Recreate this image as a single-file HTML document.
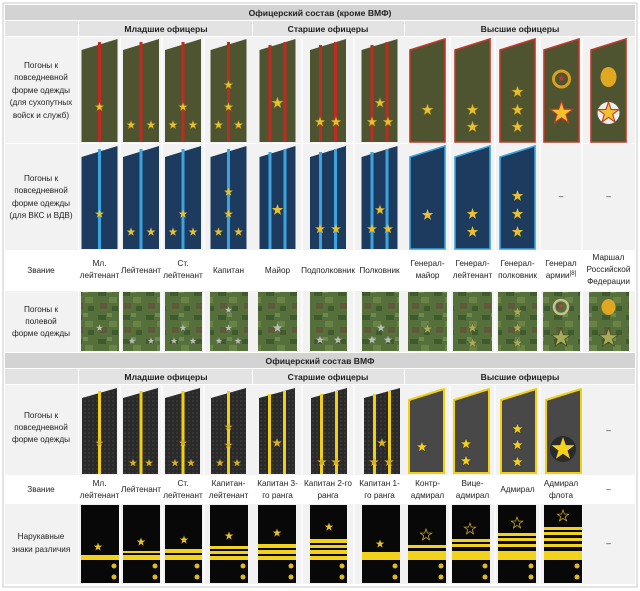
<!DOCTYPE html>
<html><head><meta charset="utf-8"><style>
html,body{margin:0;padding:0;background:#fff;}
svg{display:block}
text{font-family:"Liberation Sans",sans-serif;font-size:8.2px;fill:#222}
.h{font-weight:bold;font-size:8.6px}
.l{fill:#0645ad}
.lb{fill:#444}
</style></head><body>
<svg width="640" height="591" viewBox="0 0 640 591" xmlns="http://www.w3.org/2000/svg">
<defs>
<polygon id="st" points="0,-1 0.235,-0.324 0.951,-0.309 0.38,0.124 0.588,0.809 0,0.4 -0.588,0.809 -0.38,0.124 -0.951,-0.309 -0.235,-0.324"/>
<pattern id="camo" width="24" height="24" patternUnits="userSpaceOnUse">
<rect width="24" height="24" fill="#55703a"/>
<rect x="2" y="3" width="8" height="5" fill="#3f5a2c"/>
<rect x="13" y="9" width="8" height="6" fill="#6a8448"/>
<rect x="4" y="15" width="7" height="6" fill="#5e5a3a"/>
<rect x="16" y="18" width="6" height="5" fill="#3f5a2c"/>
<rect x="11" y="1" width="5" height="4" fill="#6e8a50"/>
</pattern>
<pattern id="nv" width="4" height="4" patternUnits="userSpaceOnUse">
<rect width="4" height="4" fill="#2a2a2a"/><rect width="2" height="2" fill="#363636"/>
</pattern>
</defs>
<rect x="3" y="3" width="634" height="584" fill="#fff" stroke="#c8c8c8"/>
<rect x="5" y="5" width="630" height="15" fill="#d3d3d3"/>
<text class="h" x="320" y="16" text-anchor="middle">Офицерский состав (кроме ВМФ)</text>
<rect x="5" y="21" width="73" height="15" fill="#e3e3e3"/>
<rect x="79" y="21" width="173" height="15" fill="#e3e3e3"/>
<rect x="253" y="21" width="151" height="15" fill="#e3e3e3"/>
<rect x="405" y="21" width="230" height="15" fill="#e3e3e3"/>
<text class="h" x="166" y="32" text-anchor="middle">Младшие офицеры</text>
<text class="h" x="328" y="32" text-anchor="middle">Старшие офицеры</text>
<text class="h" x="520" y="32" text-anchor="middle">Высшие офицеры</text>
<g fill="#f2f2f2">
<rect x="5" y="37" width="73" height="106"/><rect x="79" y="37" width="556" height="106"/>
<rect x="5" y="144" width="73" height="106"/><rect x="79" y="144" width="556" height="106"/>
<rect x="5" y="291" width="73" height="61"/><rect x="79" y="291" width="556" height="61"/>
<rect x="5" y="385" width="73" height="90"/><rect x="79" y="385" width="556" height="90"/>
<rect x="5" y="504" width="73" height="80"/><rect x="79" y="504" width="556" height="80"/>
</g>
<rect x="5" y="353" width="630" height="15" fill="#d3d3d3"/>
<text class="h" x="320" y="364" text-anchor="middle">Офицерский состав ВМФ</text>
<rect x="5" y="369" width="73" height="15" fill="#e3e3e3"/>
<rect x="79" y="369" width="173" height="15" fill="#e3e3e3"/>
<rect x="253" y="369" width="151" height="15" fill="#e3e3e3"/>
<rect x="405" y="369" width="230" height="15" fill="#e3e3e3"/>
<text class="h" x="166" y="380" text-anchor="middle">Младшие офицеры</text>
<text class="h" x="328" y="380" text-anchor="middle">Старшие офицеры</text>
<text class="h" x="520" y="380" text-anchor="middle">Высшие офицеры</text>
<g stroke="#fff" stroke-width="1.2">
<line x1="120" y1="37" x2="120" y2="352"/><line x1="162" y1="37" x2="162" y2="352"/><line x1="204" y1="37" x2="204" y2="352"/>
<line x1="302" y1="37" x2="302" y2="352"/><line x1="354" y1="37" x2="354" y2="352"/><line x1="450" y1="37" x2="450" y2="352"/>
<line x1="495" y1="37" x2="495" y2="352"/><line x1="540" y1="37" x2="540" y2="352"/><line x1="582" y1="37" x2="582" y2="352"/>
<line x1="120" y1="385" x2="120" y2="584"/><line x1="162" y1="385" x2="162" y2="584"/><line x1="204" y1="385" x2="204" y2="584"/>
<line x1="302" y1="385" x2="302" y2="584"/><line x1="354" y1="385" x2="354" y2="584"/><line x1="450" y1="385" x2="450" y2="584"/>
<line x1="495" y1="385" x2="495" y2="584"/><line x1="540" y1="385" x2="540" y2="584"/><line x1="582" y1="385" x2="582" y2="584"/>
</g>
<g class="lb" text-anchor="middle">
<text x="41" y="68">Погоны к</text><text x="41" y="80">повседневной</text><text x="41" y="93">форме одежды</text><text x="41" y="105">(для сухопутных</text><text x="41" y="118">войск и служб)</text>
<text x="41" y="181">Погоны к</text><text x="41" y="193">повседневной</text><text x="41" y="206">форме одежды</text><text x="41" y="218">(для ВКС и ВДВ)</text>
<text x="41" y="273">Звание</text>
<text x="41" y="312">Погоны к</text><text x="41" y="324">полевой</text><text x="41" y="336">форме одежды</text>
<text x="41" y="418">Погоны к</text><text x="41" y="430">повседневной</text><text x="41" y="442">форме одежды</text>
<text x="41" y="492">Звание</text>
<text x="41" y="539">Нарукавные</text><text x="41" y="552">знаки различия</text>
</g>
<g class="l" text-anchor="middle">
<text x="99.5" y="266">Мл.</text><text x="99.5" y="278">лейтенант</text>
<text x="141" y="273">Лейтенант</text>
<text x="183" y="266">Ст.</text><text x="183" y="278">лейтенант</text>
<text x="228.5" y="273">Капитан</text>
<text x="277.5" y="273">Майор</text>
<text x="328" y="273">Подполковник</text>
<text x="379.5" y="273">Полковник</text>
<text x="427.5" y="266">Генерал-</text><text x="427.5" y="278">майор</text>
<text x="472.5" y="266">Генерал-</text><text x="472.5" y="278">лейтенант</text>
<text x="517.5" y="266">Генерал-</text><text x="517.5" y="278">полковник</text>
<text x="561" y="266">Генерал</text><text x="561" y="278">армии<tspan font-size="6" dy="-3">[8]</tspan></text>
<text x="608.5" y="260">Маршал</text><text x="608.5" y="272">Российской</text><text x="608.5" y="284">Федерации</text>
</g>
<g class="l" text-anchor="middle">
<text x="99.5" y="486">Мл.</text><text x="99.5" y="498">лейтенант</text>
<text x="141" y="492">Лейтенант</text>
<text x="183" y="486">Ст.</text><text x="183" y="498">лейтенант</text>
<text x="228.5" y="486">Капитан-</text><text x="228.5" y="498">лейтенант</text>
<text x="277.5" y="486">Капитан 3-</text><text x="277.5" y="498">го ранга</text>
<text x="328" y="486">Капитан 2-го</text><text x="328" y="498">ранга</text>
<text x="379.5" y="486">Капитан 1-</text><text x="379.5" y="498">го ранга</text>
<text x="427.5" y="486">Контр-</text><text x="427.5" y="498">адмирал</text>
<text x="472.5" y="486">Вице-</text><text x="472.5" y="498">адмирал</text>
<text x="517.5" y="492">Адмирал</text>
<text x="561" y="486">Адмирал</text><text x="561" y="498">флота</text>
</g>
<g fill="#666" text-anchor="middle"><text x="561" y="199">–</text><text x="608.5" y="199">–</text><text x="608.5" y="433">–</text><text x="608.5" y="492">–</text><text x="608.5" y="546">–</text></g>

<g fill="#4e5430">
<polygon points="81.5,50 117.5,39 117.5,142 81.5,142"/><polygon points="123,50 159,39 159,142 123,142"/>
<polygon points="165,50 201,39 201,142 165,142"/><polygon points="210.5,50 246.5,39 246.5,142 210.5,142"/>
<polygon points="259.5,50 295.5,39 295.5,142 259.5,142"/><polygon points="310,50 346,39 346,142 310,142"/>
<polygon points="361.5,50 397.5,39 397.5,142 361.5,142"/>
</g>
<g fill="#c02a20">
<rect x="98" y="42" width="3" height="100"/><rect x="139.5" y="42" width="3" height="100"/><rect x="181.5" y="42" width="3" height="100"/><rect x="227" y="42" width="3" height="100"/>
<rect x="268.5" y="45" width="3" height="97"/><rect x="283.5" y="42" width="3" height="100"/>
<rect x="319" y="45" width="3" height="97"/><rect x="334" y="42" width="3" height="100"/>
<rect x="370.5" y="45" width="3" height="97"/><rect x="385.5" y="42" width="3" height="100"/>
</g>
<g fill="#4e5430" stroke="#c0392b" stroke-width="1.6">
<polygon points="410,50 445,39 445,142 410,142"/><polygon points="455,50 490,39 490,142 455,142"/>
<polygon points="500,50 535,39 535,142 500,142"/><polygon points="544,50 579,39 579,142 544,142"/>
<polygon points="591,50 626,39 626,142 591,142"/>
</g>
<g fill="#e8c12c" stroke="#a8841a" stroke-width="0.08">
<use href="#st" transform="translate(99.5,107) scale(4.6)"/>
<use href="#st" transform="translate(131,125) scale(4.6)"/><use href="#st" transform="translate(151,125) scale(4.6)"/>
<use href="#st" transform="translate(173,125) scale(4.6)"/><use href="#st" transform="translate(193,125) scale(4.6)"/><use href="#st" transform="translate(183,107) scale(4.6)"/>
<use href="#st" transform="translate(218.5,125) scale(4.6)"/><use href="#st" transform="translate(238.5,125) scale(4.6)"/><use href="#st" transform="translate(228.5,107) scale(4.6)"/><use href="#st" transform="translate(228.5,85) scale(4.6)"/>
<use href="#st" transform="translate(277.5,103) scale(6)"/>
<use href="#st" transform="translate(320,122) scale(5.2)"/><use href="#st" transform="translate(336,122) scale(5.2)"/>
<use href="#st" transform="translate(372,122) scale(5.2)"/><use href="#st" transform="translate(388,122) scale(5.2)"/><use href="#st" transform="translate(380,103) scale(5.2)"/>
<use href="#st" transform="translate(427.5,110) scale(6)"/>
<use href="#st" transform="translate(472.5,110) scale(6)"/><use href="#st" transform="translate(472.5,127) scale(6)"/>
<use href="#st" transform="translate(517.5,92) scale(6)"/><use href="#st" transform="translate(517.5,110) scale(6)"/><use href="#st" transform="translate(517.5,127) scale(6)"/>
</g>
<circle cx="561.5" cy="79" r="8" fill="none" stroke="#d8a020" stroke-width="3"/>
<use href="#st" transform="translate(561.5,78) scale(4)" fill="#c0392b"/>
<use href="#st" transform="translate(561.5,113) scale(12)" fill="#f2c12e" stroke="#c0392b" stroke-width="0.1"/>
<ellipse cx="608.5" cy="77" rx="8" ry="10" fill="#e0a820"/>
<circle cx="608.5" cy="113" r="11" fill="#eee"/>
<use href="#st" transform="translate(608.5,113) scale(11)" fill="#f2c12e" stroke="#c0392b" stroke-width="0.1"/>

<g fill="#1d3b5e">
<polygon points="81.5,157 117.5,146 117.5,249 81.5,249"/><polygon points="123,157 159,146 159,249 123,249"/>
<polygon points="165,157 201,146 201,249 165,249"/><polygon points="210.5,157 246.5,146 246.5,249 210.5,249"/>
<polygon points="259.5,157 295.5,146 295.5,249 259.5,249"/><polygon points="310,157 346,146 346,249 310,249"/>
<polygon points="361.5,157 397.5,146 397.5,249 361.5,249"/>
</g>
<g fill="#3aa3e0">
<rect x="98" y="149" width="3" height="100"/><rect x="139.5" y="149" width="3" height="100"/><rect x="181.5" y="149" width="3" height="100"/><rect x="227" y="149" width="3" height="100"/>
<rect x="268.5" y="152" width="3" height="97"/><rect x="283.5" y="149" width="3" height="100"/>
<rect x="319" y="152" width="3" height="97"/><rect x="334" y="149" width="3" height="100"/>
<rect x="370.5" y="152" width="3" height="97"/><rect x="385.5" y="149" width="3" height="100"/>
</g>
<g fill="#1d3b5e" stroke="#3aa3e0" stroke-width="1.6">
<polygon points="410,157 445,146 445,249 410,249"/><polygon points="455,157 490,146 490,249 455,249"/>
<polygon points="500,157 535,146 535,249 500,249"/>
</g>
<g fill="#e8c12c">
<use href="#st" transform="translate(99.5,214) scale(4.6)"/>
<use href="#st" transform="translate(131,232) scale(4.6)"/><use href="#st" transform="translate(151,232) scale(4.6)"/>
<use href="#st" transform="translate(173,232) scale(4.6)"/><use href="#st" transform="translate(193,232) scale(4.6)"/><use href="#st" transform="translate(183,214) scale(4.6)"/>
<use href="#st" transform="translate(218.5,232) scale(4.6)"/><use href="#st" transform="translate(238.5,232) scale(4.6)"/><use href="#st" transform="translate(228.5,214) scale(4.6)"/><use href="#st" transform="translate(228.5,192) scale(4.6)"/>
<use href="#st" transform="translate(277.5,210) scale(6)"/>
<use href="#st" transform="translate(320,229) scale(5.2)"/><use href="#st" transform="translate(336,229) scale(5.2)"/>
<use href="#st" transform="translate(372,229) scale(5.2)"/><use href="#st" transform="translate(388,229) scale(5.2)"/><use href="#st" transform="translate(380,210) scale(5.2)"/>
<use href="#st" transform="translate(427.5,215) scale(6)"/>
<use href="#st" transform="translate(472.5,214) scale(6)"/><use href="#st" transform="translate(472.5,232) scale(6)"/>
<use href="#st" transform="translate(517.5,196) scale(6)"/><use href="#st" transform="translate(517.5,214) scale(6)"/><use href="#st" transform="translate(517.5,232) scale(6)"/>
</g>

<g fill="url(#camo)">
<rect x="81" y="292" width="38" height="59"/><rect x="123" y="292" width="37" height="59"/><rect x="165" y="292" width="37" height="59"/>
<rect x="210" y="292" width="38" height="59"/><rect x="258" y="292" width="39" height="59"/><rect x="310" y="292" width="37" height="59"/>
<rect x="362" y="292" width="37" height="59"/><rect x="408" y="292" width="39" height="59"/><rect x="453" y="292" width="39" height="59"/>
<rect x="498" y="292" width="39" height="59"/><rect x="543" y="292" width="37" height="59"/><rect x="589" y="292" width="40" height="59"/>
</g>
<g fill="#bdbdbd">
<use href="#st" transform="translate(99.5,328) scale(3.6)"/>
<use href="#st" transform="translate(132,341) scale(3.6)"/><use href="#st" transform="translate(151,341) scale(3.6)"/>
<use href="#st" transform="translate(174,341) scale(3.6)"/><use href="#st" transform="translate(193,341) scale(3.6)"/><use href="#st" transform="translate(183,328) scale(3.6)"/>
<use href="#st" transform="translate(219,341) scale(3.6)"/><use href="#st" transform="translate(238,341) scale(3.6)"/><use href="#st" transform="translate(228.5,328) scale(3.6)"/><use href="#st" transform="translate(228.5,310) scale(3.6)"/>
<use href="#st" transform="translate(277.5,328) scale(5)"/>
<use href="#st" transform="translate(320,340) scale(4.4)"/><use href="#st" transform="translate(338,340) scale(4.4)"/>
<use href="#st" transform="translate(372,340) scale(4.4)"/><use href="#st" transform="translate(388,340) scale(4.4)"/><use href="#st" transform="translate(381,328) scale(4.4)"/>
</g>
<g fill="#a8ac5a" stroke="#4a5020" stroke-width="0.08">
<use href="#st" transform="translate(427.5,329) scale(5.5)"/>
<use href="#st" transform="translate(472.5,328) scale(5.5)"/><use href="#st" transform="translate(472.5,343) scale(5.5)"/>
<use href="#st" transform="translate(517.5,312) scale(5.5)"/><use href="#st" transform="translate(517.5,328) scale(5.5)"/><use href="#st" transform="translate(517.5,343) scale(5.5)"/>
<use href="#st" transform="translate(561,338) scale(10)"/><use href="#st" transform="translate(608.5,338) scale(10)"/>
</g>
<circle cx="561" cy="307" r="7" fill="none" stroke="#c8c090" stroke-width="2.5"/>
<use href="#st" transform="translate(561,306) scale(3)" fill="#b84a30"/>
<ellipse cx="608.5" cy="307" rx="7" ry="8" fill="#e0a820"/>

<g fill="url(#nv)">
<polygon points="82,398 117,388 117,474 82,474"/><polygon points="123,398 158,388 158,474 123,474"/>
<polygon points="165,398 200,388 200,474 165,474"/><polygon points="211,398 246,388 246,474 211,474"/>
<polygon points="259,398 295,388 295,474 259,474"/><polygon points="311,398 347,388 347,474 311,474"/>
<polygon points="364,398 400,388 400,474 364,474"/>
</g>
<g fill="#f0d010">
<rect x="98" y="391" width="3" height="83"/><rect x="139.5" y="391" width="3" height="83"/><rect x="181.5" y="391" width="3" height="83"/><rect x="227" y="391" width="3" height="83"/>
<rect x="268" y="394" width="3" height="80"/><rect x="283" y="391" width="3" height="83"/>
<rect x="320" y="394" width="3" height="80"/><rect x="335" y="391" width="3" height="83"/>
<rect x="373" y="394" width="3" height="80"/><rect x="388" y="391" width="3" height="83"/>
</g>
<g fill="#484848" stroke="#f0d010" stroke-width="2">
<polygon points="409,400 444,389 444,473 409,473"/><polygon points="454,400 489,389 489,473 454,473"/>
<polygon points="501,400 536,389 536,473 501,473"/><polygon points="546,400 581,389 581,473 546,473"/>
</g>
<g fill="#d8b020">
<use href="#st" transform="translate(99.5,443) scale(4.2)"/>
<use href="#st" transform="translate(133,463) scale(4.2)"/><use href="#st" transform="translate(149,463) scale(4.2)"/>
<use href="#st" transform="translate(175,463) scale(4.2)"/><use href="#st" transform="translate(191,463) scale(4.2)"/><use href="#st" transform="translate(183,443) scale(4.2)"/>
<use href="#st" transform="translate(220,463) scale(4.2)"/><use href="#st" transform="translate(237,463) scale(4.2)"/><use href="#st" transform="translate(228.5,445) scale(4.2)"/><use href="#st" transform="translate(228.5,427) scale(4.2)"/>
<use href="#st" transform="translate(277,443) scale(5)"/>
<use href="#st" transform="translate(322,462) scale(5)"/><use href="#st" transform="translate(336,462) scale(5)"/>
<use href="#st" transform="translate(374,462) scale(5)"/><use href="#st" transform="translate(389,462) scale(5)"/><use href="#st" transform="translate(382,443) scale(5)"/>
</g>
<g fill="#f5d21a" stroke="#333" stroke-width="0.08">
<use href="#st" transform="translate(422,447) scale(6)"/>
<use href="#st" transform="translate(466,444) scale(6)"/><use href="#st" transform="translate(466,461) scale(6)"/>
<use href="#st" transform="translate(517.5,429) scale(6)"/><use href="#st" transform="translate(517.5,445) scale(6)"/><use href="#st" transform="translate(517.5,462) scale(6)"/>
</g>
<circle cx="563" cy="449" r="13" fill="#2a2a2a"/>
<use href="#st" transform="translate(563,449) scale(12)" fill="#f5d21a"/>

<g fill="#080808">
<rect x="81" y="505" width="38" height="78"/><rect x="123" y="505" width="37" height="78"/><rect x="165" y="505" width="37" height="78"/>
<rect x="210" y="505" width="38" height="78"/><rect x="258" y="505" width="38" height="78"/><rect x="310" y="505" width="37" height="78"/>
<rect x="362" y="505" width="38" height="78"/><rect x="408" y="505" width="38" height="78"/><rect x="452" y="505" width="38" height="78"/>
<rect x="498" y="505" width="38" height="78"/><rect x="544" y="505" width="38" height="78"/>
</g>
<g fill="#f2d21a">
<rect x="81" y="555" width="38" height="5"/>
<rect x="123" y="551" width="37" height="2"/><rect x="123" y="555" width="37" height="5"/>
<rect x="165" y="549" width="37" height="4"/><rect x="165" y="555" width="37" height="5"/>
<rect x="210" y="546" width="38" height="3"/><rect x="210" y="551" width="38" height="3"/><rect x="210" y="556" width="38" height="4"/>
<rect x="258" y="544" width="38" height="4"/><rect x="258" y="550" width="38" height="4"/><rect x="258" y="556" width="38" height="4"/>
<rect x="310" y="539" width="37" height="4"/><rect x="310" y="545" width="37" height="3"/><rect x="310" y="550" width="37" height="4"/><rect x="310" y="556" width="37" height="4"/>
<rect x="362" y="552" width="38" height="8"/>
<rect x="408" y="545" width="38" height="3"/><rect x="408" y="551" width="38" height="9"/>
<rect x="452" y="539" width="38" height="3"/><rect x="452" y="544" width="38" height="3"/><rect x="452" y="551" width="38" height="9"/>
<rect x="498" y="533" width="38" height="3"/><rect x="498" y="538" width="38" height="3"/><rect x="498" y="544" width="38" height="3"/><rect x="498" y="551" width="38" height="9"/>
<rect x="544" y="527" width="38" height="3"/><rect x="544" y="532" width="38" height="3"/><rect x="544" y="538" width="38" height="3"/><rect x="544" y="544" width="38" height="3"/><rect x="544" y="551" width="38" height="9"/>
</g>
<g fill="#e8c020">
<use href="#st" transform="translate(98,547) scale(4.5)"/><use href="#st" transform="translate(141,542) scale(4.5)"/>
<use href="#st" transform="translate(184,540) scale(4.5)"/><use href="#st" transform="translate(229,536) scale(4.5)"/>
<use href="#st" transform="translate(277,533) scale(4.5)"/><use href="#st" transform="translate(329,527) scale(4.5)"/>
<use href="#st" transform="translate(380,544) scale(4.5)"/>
</g>
<g fill="none" stroke="#d8b020" stroke-width="0.12">
<use href="#st" transform="translate(426,535) scale(6)"/><use href="#st" transform="translate(470,529) scale(6)"/>
<use href="#st" transform="translate(517,523) scale(6)"/><use href="#st" transform="translate(563,516) scale(6)"/>
</g>
<g fill="#e0b820">
<circle cx="114" cy="566" r="2.5"/><circle cx="114" cy="577" r="2.5"/>
<circle cx="155" cy="566" r="2.5"/><circle cx="155" cy="577" r="2.5"/>
<circle cx="197" cy="566" r="2.5"/><circle cx="197" cy="577" r="2.5"/>
<circle cx="243" cy="566" r="2.5"/><circle cx="243" cy="577" r="2.5"/>
<circle cx="291" cy="566" r="2.5"/><circle cx="291" cy="577" r="2.5"/>
<circle cx="342" cy="566" r="2.5"/><circle cx="342" cy="577" r="2.5"/>
<circle cx="395" cy="566" r="2.5"/><circle cx="395" cy="577" r="2.5"/>
<circle cx="441" cy="566" r="2.5"/><circle cx="441" cy="577" r="2.5"/>
<circle cx="485" cy="566" r="2.5"/><circle cx="485" cy="577" r="2.5"/>
<circle cx="531" cy="566" r="2.5"/><circle cx="531" cy="577" r="2.5"/>
<circle cx="577" cy="566" r="2.5"/><circle cx="577" cy="577" r="2.5"/>
</g>
</svg>
</body></html>
